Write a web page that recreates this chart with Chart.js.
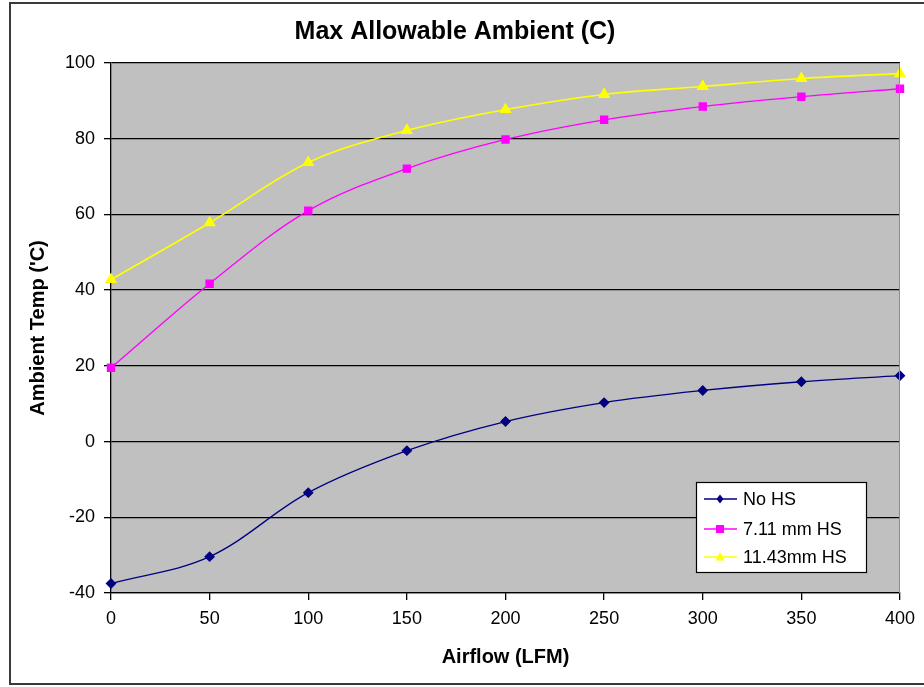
<!DOCTYPE html>
<html>
<head>
<meta charset="utf-8">
<script src="https://cdn.jsdelivr.net/npm/chart.js@4.4.0/dist/chart.umd.min.js"></script>
<style>
  html, body { margin: 0; padding: 0; background: #fff; }
  #wrap { position: relative; width: 924px; height: 687px; }
</style>
</head>
<body>
<div id="wrap"><canvas id="chart" width="924" height="687"></canvas></div>
<script>
// airflow (LFM)
const airflow = [0, 50, 100, 150, 200, 250, 300, 350, 400];
// max allowable ambient temp (C)
const noHS = [-37.5, -30.4, -13.5, -2.4, 5.3, 10.3, 13.5, 15.8, 17.4];
const hs711 = [19.5, 41.7, 61.0, 72.1, 79.8, 85.0, 88.5, 91.1, 93.2];
const hs1143 = [42.8, 57.8, 73.7, 82.2, 87.7, 91.7, 93.8, 95.9, 97.2];
const seriesNames = ['No HS', '7.11 mm HS', '11.43mm HS'];

const toPts = (vals) => vals.map((v, i) => ({ x: airflow[i], y: v }));
const FONT = '"Liberation Sans", Arial, sans-serif';

// grey plot background, frame, and the boxed legend inside the plot
const decor = {
  id: 'decor',
  beforeDraw(chart) {
    const { ctx, chartArea: a } = chart;
    ctx.save();
    ctx.fillStyle = '#fff';
    ctx.fillRect(0, 0, chart.width, chart.height);
    ctx.fillStyle = '#c0c0c0';
    ctx.fillRect(a.left, a.top, a.right - a.left, a.bottom - a.top);
    ctx.strokeStyle = '#3a3a3a';
    ctx.lineWidth = 2;
    ctx.strokeRect(10, 3, 930, 681);
    ctx.restore();
  },
  afterDatasetsDraw(chart) {
    const { ctx, chartArea: a } = chart;
    ctx.save();
    ctx.strokeStyle = '#8c8c8c';
    ctx.lineWidth = 1;
    ctx.beginPath();
    ctx.moveTo(a.left, a.top + 0.5);
    ctx.lineTo(a.right - 0.5, a.top + 0.5);
    ctx.lineTo(a.right - 0.5, a.bottom);
    ctx.stroke();

    // legend
    const bx = 696, by = 482, bw = 170, bh = 90;
    ctx.fillStyle = '#fff';
    ctx.fillRect(bx, by, bw, bh);
    ctx.strokeStyle = '#000';
    ctx.lineWidth = 1.2;
    ctx.strokeRect(bx + 0.5, by + 0.5, bw, bh);
    const rows = [499, 529, 557];
    chart.data.datasets.forEach((ds, i) => {
      const y = rows[i];
      ctx.strokeStyle = ds.borderColor;
      ctx.lineWidth = 1.5;
      ctx.beginPath();
      ctx.moveTo(704, y);
      ctx.lineTo(737, y);
      ctx.stroke();
      ctx.fillStyle = ds.pointBackgroundColor;
      const mx = 720;
      ctx.beginPath();
      if (ds.pointStyle === 'rectRot') {
        ctx.moveTo(mx, y - 4.5); ctx.lineTo(mx + 3.5, y); ctx.lineTo(mx, y + 4.5); ctx.lineTo(mx - 3.5, y);
      } else if (ds.pointStyle === 'rect') {
        ctx.rect(mx - 4, y - 4, 8, 8);
      } else {
        ctx.moveTo(mx, y - 5); ctx.lineTo(mx + 4.5, y + 3.5); ctx.lineTo(mx - 4.5, y + 3.5);
      }
      ctx.closePath();
      ctx.fill();
      ctx.fillStyle = '#000';
      ctx.font = '18px ' + FONT;
      ctx.textBaseline = 'middle';
      ctx.textAlign = 'left';
      ctx.fillText(ds.label, 743, y + 1);
    });
    ctx.restore();
  }
};

new Chart(document.getElementById('chart'), {
  type: 'line',
  data: {
    datasets: [
      {
        label: seriesNames[0], data: toPts(noHS),
        borderColor: '#000080', pointBackgroundColor: '#000080', pointBorderColor: '#000080',
        pointStyle: 'rectRot', pointRadius: 4.5, borderWidth: 1.3, tension: 0.35
      },
      {
        label: seriesNames[1], data: toPts(hs711),
        borderColor: '#ff00ff', pointBackgroundColor: '#ff00ff', pointBorderColor: '#ff00ff',
        pointStyle: 'rect', pointRadius: 5, borderWidth: 1.3, tension: 0.35
      },
      {
        label: seriesNames[2], data: toPts(hs1143),
        borderColor: '#ffff00', pointBackgroundColor: '#ffff00', pointBorderColor: '#ffff00',
        pointStyle: 'triangle', pointRadius: 5.5, borderWidth: 1.6, tension: 0.35
      }
    ]
  },
  options: {
    responsive: false,
    animation: false,
    clip: false,
    layout: { padding: { left: 10, right: 24, top: 0, bottom: 0 } },
    plugins: {
      legend: { display: false },
      tooltip: { enabled: false },
      title: {
        display: true,
        text: 'Max Allowable Ambient (C)',
        color: '#000',
        font: { family: FONT, size: 25, weight: 'bold' },
        padding: { top: 17, bottom: 16 }
      }
    },
    scales: {
      x: {
        type: 'linear',
        min: 0, max: 400,
        afterFit: (s) => { s.height = 94; },
        ticks: {
          stepSize: 50, color: '#000', padding: 8,
          font: { family: FONT, size: 18 }
        },
        grid: { drawOnChartArea: false, drawTicks: true, tickLength: 7, color: '#000', lineWidth: 1.3 },
        border: { color: '#000', width: 1.3 },
        title: {
          display: true, text: 'Airflow (LFM)', color: '#000',
          font: { family: FONT, size: 20, weight: 'bold' },
          padding: { top: 0, bottom: 18 }
        }
      },
      y: {
        min: -40, max: 100,
        afterFit: (s) => { s.width = 101; },
        ticks: {
          stepSize: 20, color: '#000', padding: 9,
          font: { family: FONT, size: 18 }
        },
        grid: { color: '#000', lineWidth: 1.3, tickLength: 7 },
        border: { color: '#000', width: 1.3 },
        title: {
          display: true, text: "Ambient Temp ('C)", color: '#000',
          font: { family: FONT, size: 20, weight: 'bold' },
          padding: { top: 16, bottom: 0 }
        }
      }
    }
  },
  plugins: [decor]
});
</script>
</body>
</html>
